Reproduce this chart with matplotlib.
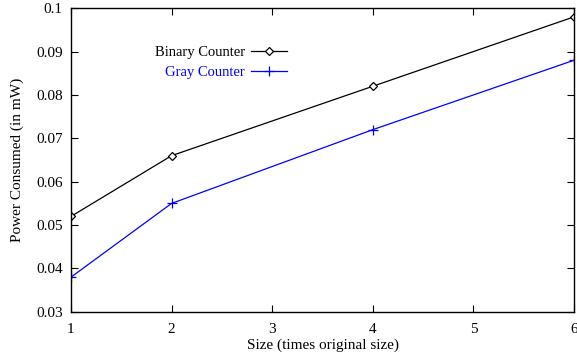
import matplotlib
matplotlib.use("Agg")
import matplotlib.pyplot as plt

# data
sizes = [1, 2, 4, 6]
binary_power = [0.052, 0.066, 0.082, 0.098]
gray_power = [0.038, 0.055, 0.072, 0.088]
x_ticks = [1, 2, 3, 4, 5, 6]
y_ticks = [0.03, 0.04, 0.05, 0.06, 0.07, 0.08, 0.09, 0.1]
y_tick_labels = ["0.03", "0.04", "0.05", "0.06", "0.07", "0.08", "0.09", "0.1"]

plt.rcParams["font.family"] = ["Liberation Serif", "DejaVu Serif"]
plt.rcParams["font.size"] = 11

fig = plt.figure(figsize=(5.77, 3.54), dpi=100)
ax = fig.add_axes([0.123, 0.119, 0.872, 0.858])

ax.plot(sizes, binary_power, color="black", lw=0.9, marker="D", ms=4,
        mfc="white", mec="black", mew=0.9, label="Binary Counter")
ax.plot(sizes, gray_power, color="blue", lw=0.9, marker="+", ms=7,
        mew=0.9, label="Gray Counter")

ax.set_xlim(1, 6)
ax.set_ylim(0.03, 0.1)
ax.set_xticks(x_ticks)
ax.set_yticks(y_ticks)
ax.set_yticklabels(y_tick_labels)
ax.tick_params(direction="in", top=True, right=True, length=5, width=0.8, pad=6)
ax.tick_params(axis="x", pad=8)
for s in ax.spines.values():
    s.set_linewidth(1.0)

ax.set_xlabel("Size (times original size)", labelpad=1.5)
ax.set_ylabel("Power Consumed (in mW)", labelpad=9)

leg = ax.legend(loc="upper left", bbox_to_anchor=(0.155, 0.895), frameon=False,
                markerfirst=False, handlelength=2.5, handletextpad=0.4,
                labelspacing=0.45, borderaxespad=0, fontsize=10.5)
for txt, line in zip(leg.get_texts(), leg.get_lines()):
    txt.set_color(line.get_color())
    txt.set_ha("right")
leg._legend_box.align = "right"

fig.savefig("out.png", dpi=100)
